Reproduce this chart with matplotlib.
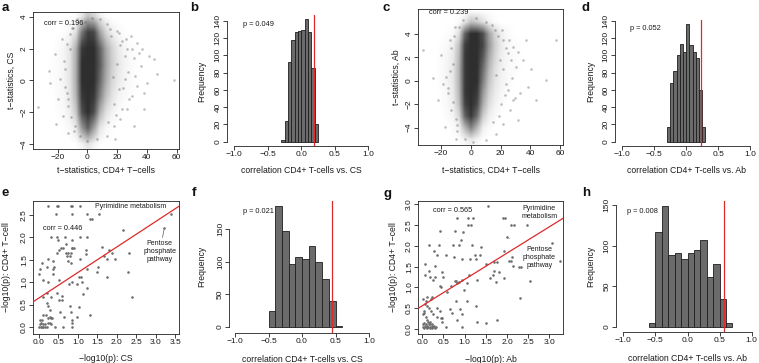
import matplotlib
matplotlib.use('Agg')
import numpy as np
import matplotlib.pyplot as plt
from matplotlib.colors import LinearSegmentedColormap

plt.rcParams['font.family'] = ['Liberation Sans', 'DejaVu Sans']
plt.rcParams['axes.unicode_minus'] = True

# ------------------------------------------------------------------ data
# panels a / c : dense cloud, darkness (0..1) on a grid
cloud_x = [-24, -20, -16, -12, -8, -4, 0, 4, 8, 12, 16, 20, 24, 28, 32, 36]
a_cloud_y = [5, 4, 3, 2, 1, 0, -1, -2, -3, -4, -5]
a_cloud = [
    [0, 0, 0, 0, 0, 0, 0, 0, 0, 0, 0, 0, 0, 0, 0, 0],
    [0, 0, 0, 0, 0.02, 0.12, 0.30, 0.22, 0.08, 0.02, 0, 0, 0, 0, 0, 0],
    [0, 0, 0.01, 0.04, 0.15, 0.65, 0.92, 0.88, 0.45, 0.20, 0.08, 0.03, 0.01, 0, 0, 0],
    [0, 0.02, 0.05, 0.12, 0.38, 0.95, 1.0, 1.0, 0.75, 0.42, 0.22, 0.10, 0.05, 0.02, 0.01, 0],
    [0.01, 0.02, 0.05, 0.13, 0.40, 1.0, 1.0, 1.0, 0.78, 0.45, 0.24, 0.12, 0.06, 0.03, 0.01, 0],
    [0.01, 0.02, 0.05, 0.13, 0.40, 1.0, 1.0, 1.0, 0.72, 0.40, 0.20, 0.10, 0.05, 0.02, 0.01, 0],
    [0, 0.02, 0.04, 0.12, 0.36, 0.95, 1.0, 0.95, 0.60, 0.30, 0.14, 0.06, 0.03, 0.01, 0, 0],
    [0, 0.01, 0.03, 0.08, 0.26, 0.85, 1.0, 0.85, 0.38, 0.15, 0.06, 0.02, 0, 0, 0, 0],
    [0, 0, 0.01, 0.03, 0.10, 0.50, 0.75, 0.45, 0.12, 0.04, 0.01, 0, 0, 0, 0, 0],
    [0, 0, 0, 0, 0.01, 0.06, 0.15, 0.06, 0.01, 0, 0, 0, 0, 0, 0, 0],
    [0, 0, 0, 0, 0, 0, 0, 0, 0, 0, 0, 0, 0, 0, 0, 0],
]
a_pts_x = [-33.3, -26, -24.9, -22, -19.7, -17.4, -16.3, -15.2, -21.3, -14, -12.9, -10.6, -7.2,
           8.6, 13.1, 19.9, 23.3, 26.7, 29, 31.2, 33.5, 35.7, 36.9, 40.3, 41.4, 44.8, 47.1, 57.9,
           30.1, 26.7, 22.2, 17.6, 13.1, 6.3, -0.5, -5, -8.4, 33.5, 38, 25.6, 21, -11.8, -18.6,
           -12.9, 2.9, -1.6, 18.8, 31.2, 38, 34.6,
           16, 18, 20, 22, 24, 25, 27, 28, 30, 32, 17, 19, 21, 23, 26, 14, 15, -14, -13, -15,
           -12, -11, -16, -10, -9]
a_pts_y = [-1.68, 0.59, -0.19, 1.63, -1.19, 2.58, -2.24, 0.69, -2.76, -0.77, -3.29, 3.31, 3.83,
           3.83, 3.52, 3.10, 2.47, 1.95, 2.79, 1.42, 2.37, 0.90, 1.95, -0.15, 1.53, 1.32, 0.38, 0.0,
           -0.98, -1.82, -2.45, -2.87, -3.50, -3.71, -3.81, -3.50, -2.87, -0.36, -0.77, 0.06, -0.57, 1.95, 0.06,
           -1.61, 3.94, 3.66, -3.71, -2.87, -1.82, 1.74,
           2.8, -1.5, 1.0, 2.2, -0.5, 1.5, 0.5, -1.2, 2.0, 0.3, 0.2, -2.2, 3.0, -1.8, 2.6, -2.6, 3.2,
           2.3, -1.2, -0.4, 2.9, -2.3, 1.2, 3.3, -3.2]

c_cloud_y = [6, 5, 4, 3, 2, 1, 0, -1, -2, -3, -4, -5, -6]
c_cloud = [
    [0, 0, 0, 0, 0, 0, 0, 0, 0, 0, 0, 0, 0, 0, 0, 0],
    [0, 0, 0, 0, 0.02, 0.12, 0.30, 0.25, 0.15, 0.06, 0.02, 0, 0, 0, 0, 0],
    [0, 0, 0.01, 0.03, 0.15, 0.75, 1.0, 1.0, 0.85, 0.45, 0.20, 0.08, 0.03, 0.01, 0, 0],
    [0, 0.01, 0.03, 0.08, 0.30, 0.92, 1.0, 1.0, 0.88, 0.50, 0.24, 0.10, 0.04, 0.02, 0.01, 0],
    [0, 0.02, 0.04, 0.10, 0.34, 0.95, 1.0, 1.0, 0.80, 0.42, 0.20, 0.08, 0.04, 0.02, 0.01, 0],
    [0, 0.02, 0.05, 0.11, 0.36, 0.95, 1.0, 1.0, 0.70, 0.34, 0.15, 0.07, 0.03, 0.02, 0.01, 0],
    [0, 0.02, 0.05, 0.11, 0.36, 0.95, 1.0, 1.0, 0.62, 0.28, 0.13, 0.06, 0.03, 0.01, 0, 0],
    [0, 0.01, 0.04, 0.10, 0.34, 0.95, 1.0, 0.95, 0.50, 0.22, 0.10, 0.04, 0.02, 0, 0, 0],
    [0, 0.01, 0.03, 0.08, 0.30, 0.90, 1.0, 0.88, 0.40, 0.16, 0.06, 0.02, 0, 0, 0, 0],
    [0, 0, 0.02, 0.05, 0.18, 0.75, 0.95, 0.70, 0.25, 0.08, 0.03, 0, 0, 0, 0, 0],
    [0, 0, 0, 0.02, 0.06, 0.35, 0.60, 0.35, 0.08, 0.02, 0, 0, 0, 0, 0, 0],
    [0, 0, 0, 0, 0.01, 0.06, 0.12, 0.06, 0.01, 0, 0, 0, 0, 0, 0, 0],
    [0, 0, 0, 0, 0, 0, 0, 0, 0, 0, 0, 0, 0, 0, 0, 0],
]
c_pts_x = [-32, -25.3, -22, -19.7, -17.5, -16.4, -14.1, -13, -10.8, -9.6, -5.2, 3.8, 10.5, 16.1,
           21.7, 25.1, 28.5, 30.7, 35.2, 38.6, 40.8, 44.2, 50.9, 57.6, 26.2, 21.7, 17.3, 10.5, 1.6,
           -4, 33, 28.5, -18.6, -15.2, -11.9, 31.8, 19.5, 24, 37.4, -9.2,
           18, 20, 22, 24, 25, 27, 28, 30, 32, 17, 19, 21, 23, 26, 15, 14, -13, -12, -14, -11,
           -10, -15, -9, -8]
c_pts_y = [2.62, 0.20, -1.65, 2.19, -3.93, 0.34, 3.48, -2.51, 4.62, -4.93, 5.19, 5.33, 5.04, 4.33,
           3.48, 2.34, 2.91, 1.20, 1.77, -0.51, 1.05, -1.65, 0.06, 3.48, -2.51, -3.65, -4.50, -5.07, -5.21,
           -4.93, -1.08, -1.65, -0.23, -1.08, 1.48, -3.36, 1.77, -0.23, 3.48, -3.79,
           3.8, -2.0, 1.0, 2.8, -0.8, 1.8, 0.2, -1.5, 2.5, 0.5, -3.0, 4.3, -1.2, 3.5, -3.5, 4.8,
           2.8, -1.8, 0.8, 3.8, -3.3, -0.6, -4.3, 4.6]
a_corr = 0.196
c_corr = 0.239

# histograms (bin left edges and counts)
b_bin_left = [-0.30, -0.25, -0.20, -0.15, -0.10, -0.05, 0.00, 0.05, 0.10, 0.15, 0.20]
b_counts = [2, 24, 92, 118, 127, 128, 129, 142, 127, 85, 20]
b_obs, b_p = 0.196, '0.049'
d_bin_left = [-0.30, -0.25, -0.20, -0.15, -0.10, -0.05, 0.00, 0.05, 0.10, 0.15, 0.20, 0.25]
d_counts = [17, 68, 82, 100, 113, 104, 136, 112, 104, 97, 60, 17]
d_obs, d_p = 0.239, '0.052'
f_bin_left = [-0.5, -0.4, -0.3, -0.2, -0.1, 0.0, 0.1, 0.2, 0.3, 0.4, 0.5]
f_counts = [24, 186, 147, 97, 107, 105, 124, 100, 74, 40, 1]
f_obs, f_p = 0.446, '0.021'
h_bin_left = [-0.6, -0.5, -0.4, -0.3, -0.2, -0.1, 0.0, 0.1, 0.2, 0.3, 0.4, 0.5, 0.6]
h_counts = [5, 117, 149, 88, 91, 83, 91, 95, 107, 62, 77, 34, 5]
h_obs, h_p = 0.565, '0.008'

# panel e: pathway -log10(p) points, grouped by y level
e_levels = [2.70, 2.52, 2.40, 2.21, 2.15, 2.00, 1.94, 1.85, 1.79, 1.75, 1.71, 1.65, 1.62, 1.57, 1.51,
            1.47, 1.42, 1.33, 1.28, 1.23, 1.17, 1.12, 1.05, 1.01, 0.96, 0.86, 0.76, 0.73, 0.69, 0.67,
            0.59, 0.54, 0.47, 0.44, 0.38, 0.33, 0.27, 0.23, 0.19, 0.16, 0.10, 0.06, 0.01]
e_level_x = [[0.24, 0.45, 0.48, 0.82, 0.86, 1.05], [0.44, 0.86, 1.22, 1.54, 3.40], [1.32, 1.35],
             [3.22], [2.16], [0.31, 0.45, 0.68, 1.05, 1.24], [0.50, 0.86], [0.69], [1.63],
             [0.56, 0.61, 0.84, 0.86, 0.90], [1.21, 1.80, 0.51], [0.47, 0.69, 0.75, 0.81, 1.87, 2.32],
             [1.21], [0.71, 0.80, 1.67], [0.22, 1.04, 1.74, 1.95], [0.35, 0.75], [0.07, 0.81],
             [0.20, 0.39, 1.51], [0.03, 0.37, 1.24], [2.29, 1.49], [0.01, 0.35], [1.02, 1.09, 1.75],
             [0.11, 0.52], [0.22, 0.86, 1.11], [0.78, 0.97], [1.23], [0.21, 0.47], [1.12], [0.60],
             [0.09, 0.30, 2.40], [0.52, 0.58], [0.21], [0.80, 0.24], [1.03], [0.27], [0.54, 0.82],
             [0.09, 0.17, 1.31], [0.28, 0.65, 0.97], [0.22, 0.30, 0.34], [0.03, 0.08, 0.84],
             [0.05, 0.24, 0.28, 0.86], [0.03, 0.09, 0.15, 0.31],
             [0.01, 0.04, 0.08, 0.11, 0.15, 0.20, 0.42, 0.62, 0.85]]
e_corr = 0.446
e_intercept, e_slope = 0.646, 0.568

# panel g
g_levels = [2.96, 2.66, 2.50, 2.37, 2.34, 2.21, 2.13, 2.08, 2.02, 1.98, 1.88, 1.78, 1.74, 1.68, 1.64,
            1.62, 1.56, 1.52, 1.48, 1.40, 1.36, 1.30, 1.26, 1.22, 1.19, 1.16, 1.14, 1.10, 1.03, 1.00,
            0.94, 0.90, 0.78, 0.74, 0.71, 0.68, 0.60, 0.55, 0.51, 0.47, 0.44, 0.39, 0.35, 0.30, 0.27,
            0.22, 0.18, 0.15, 0.11, 0.08, 0.04, 0.02]
g_level_x = [[1.54], [0.83, 1.07, 1.20, 1.91, 1.95], [1.09, 1.14, 2.09, 2.17, 2.48], [0.42, 0.78],
             [0.97], [2.01], [0.91], [3.07], [0.16, 0.39, 0.72, 0.86, 1.17], [1.38], [0.28, 1.93],
             [0.34, 0.56, 1.25, 1.37], [0.75, 2.11], [0.94, 1.13, 1.26], [2.04, 2.10, 3.25],
             [1.69, 1.76], [0.06, 1.50], [0.30, 2.15], [2.28, 2.32], [0.15, 1.70], [0.46, 1.80],
             [0.06, 1.11, 1.66], [0.17, 0.30, 0.48], [1.60, 1.93], [0.26, 0.93, 1.28],
             [0.77, 0.80, 2.55], [0.87, 1.74], [0.83, 1.06], [0.42, 0.67], [0.43], [0.98], [0.59],
             [0.10, 0.22], [2.31], [0.02, 0.20], [0.08, 0.79, 1.05], [0.06], [0.10, 1.27],
             [0.16, 0.34], [0.65, 0.89], [0.04, 0.20, 0.42], [0.05, 0.71], [0.02, 0.26, 0.93],
             [0.09, 0.35], [0.43, 0.46], [0.10, 0.83, 1.76], [0.13, 0.17, 0.46, 1.30], [0.05, 1.50],
             [0.02, 0.09, 0.15, 0.18, 0.24], [0.06, 0.12, 0.22, 0.28],
             [0.02, 0.08, 0.13, 0.18, 0.26, 0.32, 0.57, 0.93], [0.04, 0.10, 0.17, 0.23, 0.30]]
g_corr = 0.565
g_intercept, g_slope = 0.56, 0.633

# ------------------------------------------------------------------ layout helpers
W, H = 759, 363
fig = plt.figure(figsize=(W / 100, H / 100), dpi=100)
fig.patch.set_facecolor('white')

TXT = '#1a1a1a'
RED = '#dd2a2a'
LAB = 6.2
TICK = 6.0
SMALL = 5.3


def lin(px, p1, v1, p2, v2):
    return v1 + (px - p1) * (v2 - v1) / (p2 - p1)


def make_axes(l, t, r, b, xcal, ycal):
    ax = fig.add_axes([l / W, 1 - b / H, (r - l) / W, (b - t) / H])
    ax.set_xlim(lin(l, *xcal), lin(r, *xcal))
    ax.set_ylim(lin(b, *ycal), lin(t, *ycal))
    for s in ax.spines.values():
        s.set_linewidth(0.6)
        s.set_color('#222222')
    ax.tick_params(direction='out', length=2.6, width=0.6, labelsize=TICK, colors='#222222',
                   labelcolor=TXT, pad=1.2)
    return ax


def labels(ax, xlab, xpos, ylab, ypos):
    ax.set_xlabel(xlab, fontsize=LAB, color=TXT)
    ax.xaxis.set_label_coords(xpos[0] / W, 1 - xpos[1] / H, transform=fig.transFigure)
    ax.xaxis.label.set_va('center')
    ax.set_ylabel(ylab, fontsize=LAB, color=TXT)
    ax.yaxis.set_label_coords(ypos[0] / W, 1 - ypos[1] / H, transform=fig.transFigure)
    ax.yaxis.label.set_va('center')


def rot_yticks(ax):
    for lab in ax.get_yticklabels():
        lab.set_rotation(90)
        lab.set_va('center')


gray_cmap = LinearSegmentedColormap.from_list('cloud', ['#ffffff', '#2e2e2e'])


def cloud_panel(ax, grid, gy, px, py, corr, txy):
    gx = cloud_x
    dx = gx[1] - gx[0]
    dy = abs(gy[0] - gy[1])
    ax.imshow(np.array(grid), cmap=gray_cmap, vmin=0, vmax=1, interpolation='bilinear',
              extent=[gx[0] - dx / 2, gx[-1] + dx / 2, gy[-1] - dy / 2, gy[0] + dy / 2],
              aspect='auto', origin='upper', zorder=1)
    ax.scatter(px, py, s=3.5, color='#4a4a4a', alpha=0.35, linewidths=0, zorder=2)
    ax.text(txy[0], txy[1], f'corr = {corr}', fontsize=SMALL, color=TXT, ha='left', va='center', zorder=3)


def hist_panel(ax, lefts, width, counts, obs, p, txy, ytop, ystep):
    ax.bar(lefts, counts, width=width, align='edge', color='#6b6b6b', edgecolor='#1e1e1e',
           linewidth=0.6, zorder=2)
    ax.axvline(obs, color=RED, lw=0.9, zorder=3)
    ax.spines['top'].set_visible(False)
    ax.spines['right'].set_visible(False)
    ax.spines['left'].set_bounds(0, ytop)
    ax.spines['bottom'].set_bounds(-1, 1)
    ax.set_xticks([-1.0, -0.5, 0.0, 0.5, 1.0])
    ax.set_xticklabels(['\u22121.0', '\u22120.5', '0.0', '0.5', '1.0'])
    ax.set_yticks(list(range(0, ytop + 1, ystep)))
    rot_yticks(ax)
    ax.text(txy[0], txy[1], f'p = {p}', fontsize=SMALL, color=TXT, ha='left', va='center', zorder=4)


def points_panel(ax, levels, level_x, corr, txy, intercept, slope):
    xs, ys = [], []
    for yv, xl in zip(levels, level_x):
        for xv in xl:
            xs.append(xv)
            ys.append(yv)
    ax.scatter(xs, ys, s=3.5, color='#6e6e6e', linewidths=0, zorder=2)
    ax.axline((0, intercept), slope=slope, color=RED, lw=0.9, zorder=3)
    ax.text(txy[0], txy[1], f'corr = {corr}', fontsize=SMALL, color=TXT, ha='left', va='center', zorder=4)


# ------------------------------------------------------------------ panel a
ax = make_axes(33.3, 12.3, 179.3, 149, (57.67, -20, 176.67, 60), (144, -4, 16.67, 4))
cloud_panel(ax, a_cloud, a_cloud_y, a_pts_x, a_pts_y, a_corr, (-29.4, 3.58))
ax.set_xticks([-20, 0, 20, 40, 60])
ax.set_yticks([-4, -2, 0, 2, 4])
rot_yticks(ax)
labels(ax, 't\u2212statistics, CD4+ T\u2212cells', (106.3, 170.7), 't\u2212statistics, CS', (11.7, 80.7))

# ------------------------------------------------------------------ panel b
ax = make_axes(226.7, 15, 373.7, 145.7, (234.3, -1, 368.3, 1), (141.7, 0, 20.7, 140))
hist_panel(ax, b_bin_left, 0.05, b_counts, b_obs, b_p, (-0.875, 136), 140, 20)
labels(ax, 'correlation CD4+ T-cells vs. CS', (301.3, 170.7), 'Frequency', (202, 81))

# ------------------------------------------------------------------ panel c
ax = make_axes(418.3, 9.3, 562.7, 145, (441, -20, 560, 60), (127.67, -4, 34, 4))
cloud_panel(ax, c_cloud, c_cloud_y, c_pts_x, c_pts_y, c_corr, (-28, 5.81))
ax.set_xticks([-20, 0, 20, 40, 60])
ax.set_yticks([-4, -2, 0, 2, 4])
rot_yticks(ax)
labels(ax, 't\u2212statistics, CD4+ T\u2212cells', (490.5, 170.7), 't\u2212statistics, Ab', (396.7, 77))

# ------------------------------------------------------------------ panel d
ax = make_axes(615, 20, 755, 145.7, (622.3, -1, 750, 1), (141.7, 0, 20.7, 140))
hist_panel(ax, d_bin_left, 0.05, d_counts, d_obs, d_p, (-0.884, 131.2), 140, 20)
labels(ax, 'correlation CD4+ T-cells vs. Ab', (686.2, 170.7), 'Frequency', (590.7, 81))

# ------------------------------------------------------------------ panel e
ax = make_axes(33.3, 201, 179.3, 334, (39, 0, 175.33, 3.5), (327, 0, 214.67, 2.5))
points_panel(ax, e_levels, e_level_x, e_corr, (0.11, 2.20), e_intercept, e_slope)
ax.set_xticks([0, 0.5, 1.0, 1.5, 2.0, 2.5, 3.0, 3.5])
ax.set_xticklabels(['0.0', '0.5', '1.0', '1.5', '2.0', '2.5', '3.0', '3.5'])
ax.set_yticks([0, 0.5, 1.0, 1.5, 2.0, 2.5])
ax.set_yticklabels(['0.0', '0.5', '1.0', '1.5', '2.0', '2.5'])
rot_yticks(ax)
ax.text(3.27, 2.69, 'Pyrimidine metabolism', fontsize=5, color=TXT, ha='right', va='center')
ax.annotate('Pentose\nphosphate\npathway', xy=(3.22, 2.21), xytext=(3.10, 1.68), fontsize=5,
            color=TXT, ha='center', va='center', linespacing=1.15,
            arrowprops=dict(arrowstyle='-', color='#555555', lw=0.5, shrinkA=9, shrinkB=1.5))
labels(ax, '\u2212log10(p): CS', (106.3, 358.5), '\u2212log10(p): CD4+ T\u2212cell', (6.7, 267.5))

# ------------------------------------------------------------------ panel f
ax = make_axes(229.3, 200.7, 374, 332.7, (235, -1, 369, 1), (327, 0, 229.3, 150))
hist_panel(ax, f_bin_left, 0.1, f_counts, f_obs, f_p, (-0.876, 178), 150, 50)
labels(ax, 'correlation CD4+ T-cells vs. CS', (302, 359.5), 'Frequency', (201.7, 266))

# ------------------------------------------------------------------ panel g
ax = make_axes(418.3, 200.7, 562.7, 334, (422.33, 0, 549.33, 3.0), (329, 0, 204.33, 3.0))
points_panel(ax, g_levels, g_level_x, g_corr, (0.26, 2.84), g_intercept, g_slope)
ax.set_xticks([0, 0.5, 1.0, 1.5, 2.0, 2.5, 3.0])
ax.set_xticklabels(['0.0', '0.5', '1.0', '1.5', '2.0', '2.5', '3.0'])
ax.set_yticks([0, 0.5, 1.0, 1.5, 2.0, 2.5, 3.0])
ax.set_yticklabels(['0.0', '0.5', '1.0', '1.5', '2.0', '2.5', '3.0'])
rot_yticks(ax)
ax.text(2.76, 2.81, 'Pyrimidine\nmetabolism', fontsize=5, color=TXT, ha='center', va='center',
        linespacing=1.15)
ax.annotate('Pentose\nphosphate\npathway', xy=(2.01, 2.21), xytext=(2.76, 1.72), fontsize=5,
            color=TXT, ha='center', va='center', linespacing=1.15,
            arrowprops=dict(arrowstyle='-', color='#555555', lw=0.5, shrinkA=9, shrinkB=1.5))
labels(ax, '\u2212log10(p): Ab', (490.5, 359), '\u2212log10(p): CD4+ T\u2212cell', (393.3, 267.5))

# ------------------------------------------------------------------ panel h
ax = make_axes(615.7, 200.7, 756, 332, (623.3, -1, 751.7, 1), (327, 0, 205, 150))
hist_panel(ax, h_bin_left, 0.1, h_counts, h_obs, h_p, (-0.94, 142.6), 150, 50)
labels(ax, 'correlation CD4+ T-cells vs. Ab', (687.5, 358.7), 'Frequency', (590.7, 266))

# ------------------------------------------------------------------ panel letters
for letter, (x, y) in zip('abcdefgh', [(1.7, 10.6), (190, 10.6), (382.7, 10.6), (581.3, 10.6),
                                       (1.7, 196.5), (191.7, 196.5), (384, 196.5), (582.3, 196.5)]):
    fig.text(x / W, 1 - y / H, letter, fontsize=9.5, fontweight='bold', ha='left', va='baseline',
             color='#111111')

fig.savefig('out.png', dpi=100, facecolor='white')
